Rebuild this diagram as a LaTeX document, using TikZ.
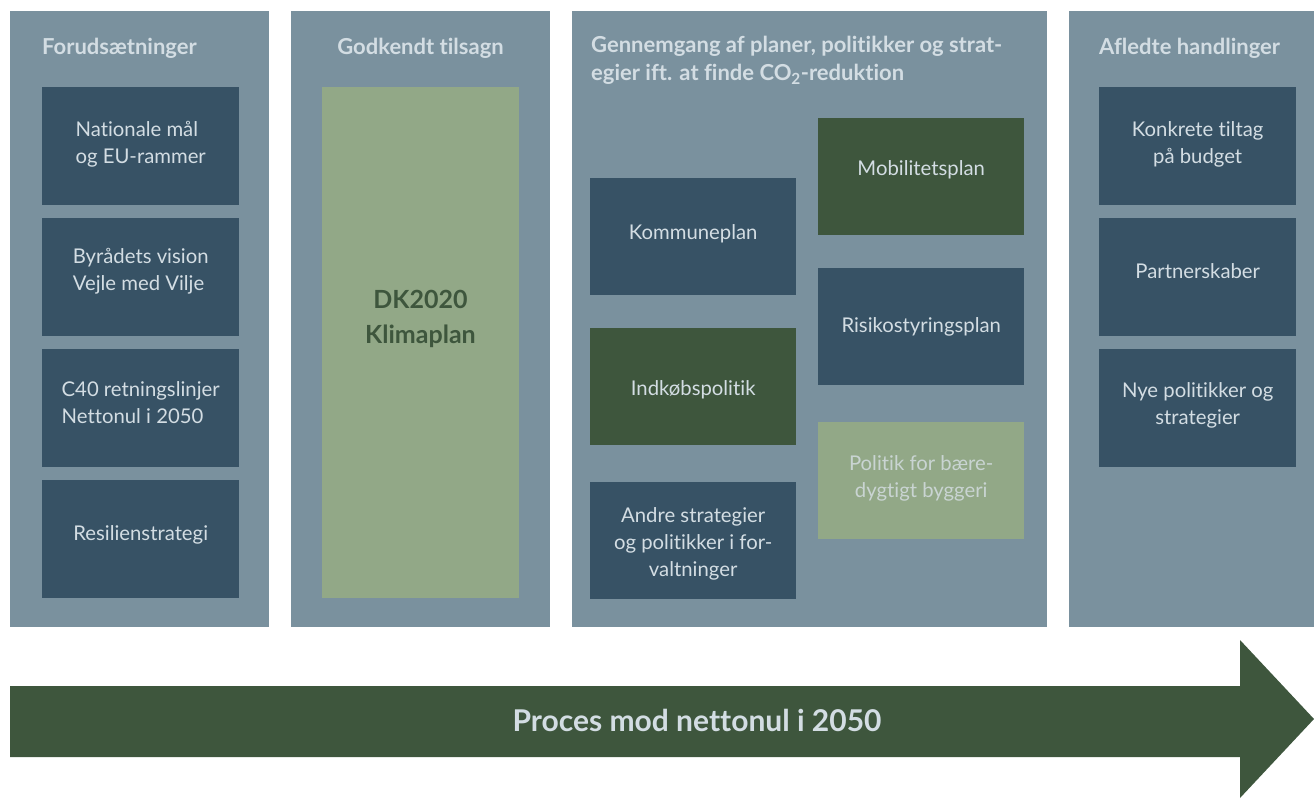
\documentclass[tikz,border=0pt]{standalone}
\usepackage{fontspec}
\setmainfont{Lato}[Ligatures=NoCommon]
\definecolor{panelbg}{HTML}{7A919E}
\definecolor{darkblue}{HTML}{375265}
\definecolor{darkgreen}{HTML}{3E563D}
\definecolor{lightgreen}{HTML}{92A887}
\definecolor{lighttext}{HTML}{D3DDE3}
\definecolor{greentext}{HTML}{C9D4D2}
\tikzset{
  panel/.style={fill=panelbg, draw=none, anchor=north west, inner sep=0pt},
  ptitle/.style={text=lighttext, font=\bfseries\fontsize{22}{28}\selectfont, inner sep=0pt},
  bluebox/.style={fill=darkblue, anchor=north west, minimum width=#1, minimum height=118pt, inner sep=0pt},
  greenbox/.style={bluebox=#1, fill=darkgreen},
  lgbox/.style={bluebox=#1, fill=lightgreen},
  btext/.style={text=lighttext, font=\fontsize{20.3}{27}\selectfont, align=center, inner sep=0pt},
  gtext/.style={btext, text=greentext},
}
\begin{document}
\begin{tikzpicture}[x=1pt,y=-1pt]
\useasboundingbox (0,0) rectangle (1314,798);
% panels
\node[panel, minimum width=259pt, minimum height=616pt] (p1) at (10,11) {};
\node[panel, minimum width=259pt, minimum height=616pt] (p2) at (291,11) {};
\node[panel, minimum width=475pt, minimum height=616pt] (p3) at (572,11) {};
\node[panel, minimum width=245pt, minimum height=616pt] (p4) at (1069,11) {};
% titles
\node[ptitle, anchor=west] (t1) at (42,48) {Forudsætninger};
\node[ptitle, anchor=center] (t2) at (420.5,48) {Godkendt tilsagn};
\node[ptitle, anchor=north west, align=left] (t3) at (591,36) {Gennemgang af planer, politikker og strat-\\egier ift. at finde CO\textsubscript{2}-reduktion};
\node[ptitle, anchor=west] (t4) at (1099,48) {Afledte handlinger};
% panel 1
\node[bluebox=197pt] (b11) at (42,87) {};
\node[bluebox=197pt] (b12) at (42,218) {};
\node[bluebox=197pt] (b13) at (42,349) {};
\node[bluebox=197pt] (b14) at (42,480) {};
\node[btext, align=left] (b11t) at ([yshift=2pt]b11.center) {Nationale mål\\og EU-rammer};
\node[btext, align=left] (b12t) at ([yshift=6pt]b12.center) {Byrådets vision\\Vejle med Vilje};
\node[btext, align=left] (b13t) at ([yshift=6pt]b13.center) {C40 retningslinjer\\Nettonul i 2050};
\node[btext] (b14t) at ([yshift=4pt]b14.center) {Resilienstrategi};
% panel 2
\node[fill=lightgreen, anchor=north west, minimum width=197pt, minimum height=511pt, inner sep=0pt] (b21) at (322,87) {};
\node[text=darkgreen, font=\bfseries\fontsize{25}{35}\selectfont, align=center] (dk) at (420.5,319) {DK2020\\Klimaplan};
% panel 3
\node[greenbox=206pt, minimum height=117pt] (b31) at (818,118) {};
\node[bluebox=206pt, minimum height=117pt] (b32) at (590,178) {};
\node[bluebox=206pt, minimum height=117pt] (b33) at (818,268) {};
\node[greenbox=206pt, minimum height=117pt] (b34) at (590,328) {};
\node[lgbox=206pt, minimum height=117pt] (b35) at (818,422) {};
\node[bluebox=206pt, minimum height=117pt] (b36) at (590,482) {};
\node[btext] (b31t) at ([yshift=7pt]b31.center) {Mobilitetsplan};
\node[btext] (b32t) at ([yshift=3pt]b32.center) {Kommuneplan};
\node[btext] (b33t) at (b33.center) {Risikostyringsplan};
\node[btext] (b34t) at ([yshift=-3pt]b34.center) {Indkøbspolitik};
\node[gtext] (b35t) at ([yshift=2pt]b35.center) {Politik for bære-\\dygtigt byggeri};
\node[btext] (b36t) at ([yshift=-3pt]b36.center) {Andre strategier\\og politikker i for-\\valtninger};
% panel 4
\node[bluebox=197pt] (b41) at (1099,87) {};
\node[bluebox=197pt] (b42) at (1099,218) {};
\node[bluebox=197pt] (b43) at (1099,349) {};
\node[btext] (b41t) at ([yshift=2pt]b41.center) {Konkrete tiltag\\på budget};
\node[btext] (b42t) at ([yshift=6pt]b42.center) {Partnerskaber};
\node[btext] (b43t) at ([yshift=3pt]b43.center) {Nye politikker og\\strategier};
% arrow
\fill[darkgreen] (10,686) -- (1240,686) -- (1240,640) -- (1314,719) -- (1240,798) -- (1240,757) -- (10,757) -- cycle;
\node[text=lighttext, font=\bfseries\fontsize{30}{34}\selectfont] (arr) at (697,720) {Proces mod nettonul i 2050};
\end{tikzpicture}
\end{document}
